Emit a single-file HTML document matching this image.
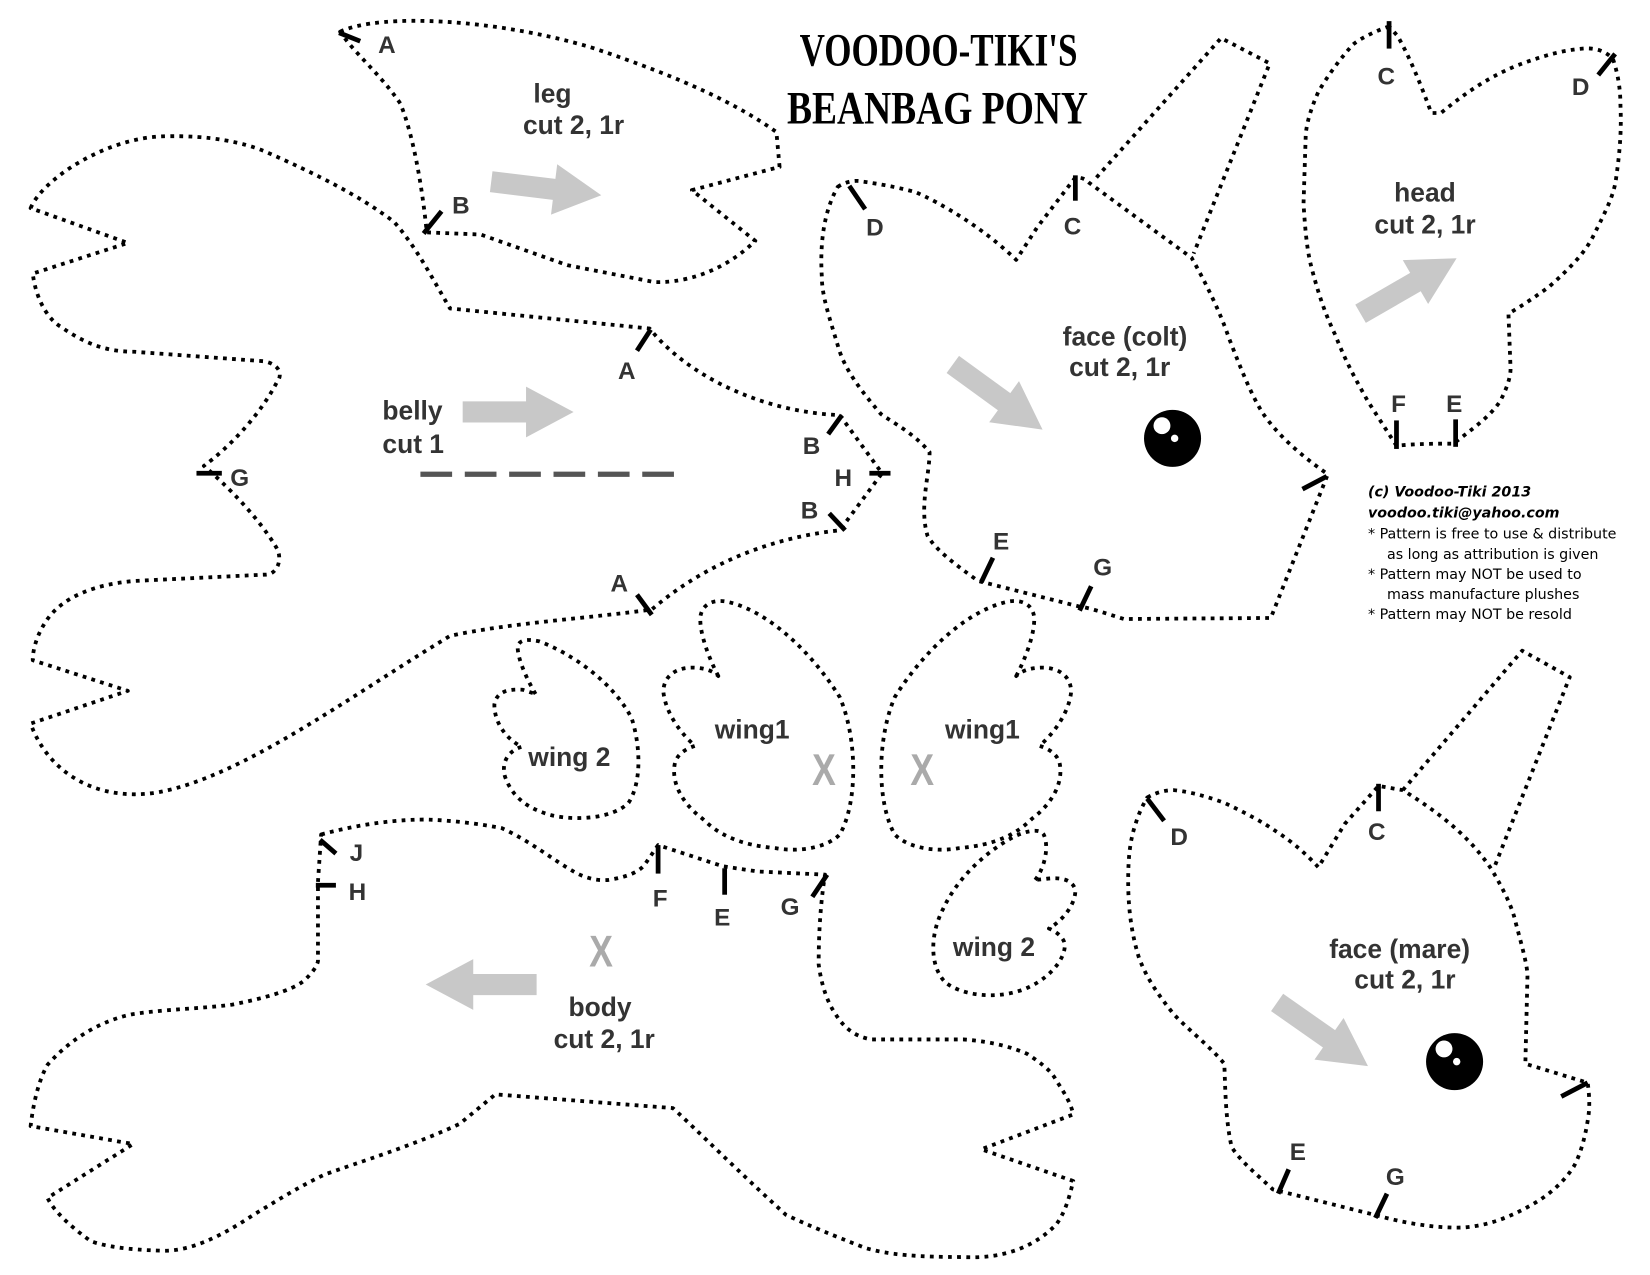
<!DOCTYPE html>
<html><head><meta charset="utf-8"><style>
html,body{margin:0;padding:0;background:#fff;}
svg{display:block;}
.d{fill:none;stroke:#000;stroke-width:3.6;stroke-dasharray:3.6 5;stroke-linejoin:round;}
.t{stroke:#000;stroke-width:4.5;}
.l{font-family:"Liberation Sans",sans-serif;font-weight:bold;fill:#333;font-size:25px;}
.k{font-family:"Liberation Sans",sans-serif;font-weight:bold;fill:#333;font-size:23px;}
.a{fill:#c8c8c8;}
.x{font-family:"Liberation Sans",sans-serif;font-weight:bold;fill:#aaa;font-size:42px;}
.n{font-family:"DejaVu Sans","Liberation Sans",sans-serif;font-size:13.5px;fill:#000;}
</style></head><body>
<svg width="1650" height="1275" viewBox="0 0 1562 1207" xmlns="http://www.w3.org/2000/svg">
<defs><path id="arr" d="M0,-10 L60,-10 L60,-24 L105,0 L60,24 L60,10 L0,10Z"/></defs>
<rect width="1562" height="1207" fill="#fff"/>

<!-- title -->
<text x="757" y="62" font-family="Liberation Serif,serif" font-weight="bold" font-size="44" textLength="263" lengthAdjust="spacingAndGlyphs">VOODOO-TIKI'S</text>
<text x="745" y="117" font-family="Liberation Serif,serif" font-weight="bold" font-size="44" textLength="285" lengthAdjust="spacingAndGlyphs">BEANBAG  PONY</text>

<!-- leg -->
<path class="d" d="M322,30 C360,12 470,18 560,45 C650,75 700,100 735,125 L738,158 L655,180 L715,228 C680,262 640,268 619,267 L537,251 L455,222 L404,220 C400,180 392,130 379,98 C360,70 335,50 322,30Z"/>
<line class="t" x1="321" y1="31" x2="341" y2="39"/>
<line class="t" x1="401" y1="221" x2="418" y2="200"/>
<text class="k" x="358" y="50">A</text>
<text class="k" x="428" y="202">B</text>
<text class="l" x="523" y="97" text-anchor="middle">leg</text>
<text class="l" x="543" y="127" text-anchor="middle">cut 2, 1r</text>
<use href="#arr" class="a" transform="translate(465,172) rotate(7)"/>

<!-- belly -->
<path class="d" d="M29,197 C40,170 100,130 156,129 C200,128 230,135 250,143 C300,165 340,185 373,210 C395,235 410,265 426,292 L615,311 C650,355 720,390 795,393 L835,448 L795,502 C720,510 660,540 617,577 C560,585 480,590 426,602 C330,660 230,735 150,750 C90,760 45,730 29,685 L121,654 L31,625 C31,615 35,600 45,586 C60,565 90,553 127,550 L250,544 C262,545 268,530 262,519 C245,490 215,460 193,441 C215,425 245,395 262,362 C268,355 265,345 250,342 L127,333 C100,333 80,325 57,309 C50,305 35,290 31,259 L121,230 Z"/>
<line class="t" x1="616" y1="312" x2="603" y2="332"/>
<line class="t" x1="797" y1="393" x2="784" y2="411"/>
<line class="t" x1="823" y1="448" x2="843" y2="448"/>
<line class="t" x1="785" y1="486" x2="800" y2="502"/>
<line class="t" x1="603" y1="563" x2="617" y2="582"/>
<line class="t" x1="186" y1="448" x2="210" y2="448"/>
<text class="k" x="585" y="359">A</text>
<text class="k" x="760" y="430">B</text>
<text class="k" x="790" y="460">H</text>
<text class="k" x="758" y="491">B</text>
<text class="k" x="578" y="560">A</text>
<text class="k" x="218" y="460">G</text>
<text class="l" x="362" y="397">belly</text>
<text class="l" x="362" y="429">cut 1</text>
<use href="#arr" class="a" transform="translate(438,390)"/>
<line x1="398" y1="449" x2="645" y2="449" stroke="#555" stroke-width="5" stroke-dasharray="30 12"/>

<!-- face colt -->
<path class="d" d="M1038,168 L1156,36 L1202,60 L1130,240"/>
<path class="d" d="M793,177 C800,172 810,170 817,172 C840,175 860,180 867,182 C890,192 930,215 962,246 L982,215 L1018,168 C1025,168 1028,170 1031,173 L1128,244 C1140,265 1155,295 1163,319 C1175,350 1185,375 1196,392 C1210,412 1230,430 1257,449 L1203,585 L1064,586 C1045,580 1030,575 1021,574 L926,550 C905,535 885,520 878,507 C870,480 880,450 880,428 C865,410 845,400 834,392 C815,370 800,350 794,330 C785,300 778,280 778,262 C776,230 780,200 793,177Z"/>
<line class="t" x1="804" y1="176" x2="819" y2="198"/>
<line class="t" x1="1018" y1="166" x2="1018" y2="190"/>
<line class="t" x1="1233" y1="463" x2="1256" y2="451"/>
<line class="t" x1="929" y1="551" x2="940" y2="528"/>
<line class="t" x1="1022" y1="578" x2="1033" y2="555"/>
<text class="k" x="820" y="223">D</text>
<text class="k" x="1007" y="222">C</text>
<text class="k" x="940" y="520">E</text>
<text class="k" x="1035" y="545">G</text>
<text class="l" x="1065" y="327" text-anchor="middle">face (colt)</text>
<text class="l" x="1060" y="356" text-anchor="middle">cut 2, 1r</text>
<use href="#arr" class="a" transform="translate(902,345) rotate(36)"/>
<circle cx="1110" cy="415" r="27"/>
<circle cx="1100" cy="403" r="8" fill="#fff"/>
<circle cx="1112" cy="415" r="3.5" fill="#fff"/>

<!-- head -->
<path class="d" d="M1315,25 C1300,30 1285,38 1280,43 C1265,60 1255,75 1248,87 C1240,105 1236,120 1236,131 L1234,193 C1236,225 1238,240 1242,255 C1250,285 1256,300 1264,317 C1275,345 1285,362 1295,380 L1322,422 C1340,420 1360,420 1376,420 C1395,405 1410,395 1420,380 C1428,365 1430,355 1430,349 L1428,297 C1440,290 1455,280 1467,271 C1485,255 1500,240 1508,224 C1520,200 1528,185 1530,168 C1534,140 1535,120 1534,99 C1534,80 1530,65 1527,56 C1520,48 1510,45 1498,46 C1475,48 1455,55 1436,62 C1405,75 1385,90 1364,107 L1355,107 C1345,80 1335,55 1323,34 Z"/>
<line class="t" x1="1315" y1="20" x2="1315" y2="46"/>
<line class="t" x1="1529" y1="51" x2="1513" y2="71"/>
<line class="t" x1="1322" y1="398" x2="1322" y2="425"/>
<line class="t" x1="1378" y1="397" x2="1378" y2="423"/>
<text class="k" x="1304" y="80">C</text>
<text class="k" x="1488" y="90">D</text>
<text class="k" x="1317" y="390">F</text>
<text class="k" x="1369" y="390">E</text>
<text class="l" x="1349" y="191" text-anchor="middle">head</text>
<text class="l" x="1349" y="221" text-anchor="middle">cut 2, 1r</text>
<use href="#arr" class="a" transform="translate(1288,297) rotate(-30)"/>

<!-- notes -->
<text class="n" x="1295" y="470" font-weight="bold" font-style="italic" font-size="15">(c) Voodoo-Tiki 2013</text>
<text class="n" x="1295" y="490" font-weight="bold" font-style="italic" font-size="15">voodoo.tiki@yahoo.com</text>
<text class="n" x="1295" y="510">* Pattern is free to use &amp; distribute</text>
<text class="n" x="1313" y="529">as long as attribution is given</text>
<text class="n" x="1295" y="548">* Pattern may NOT be used to</text>
<text class="n" x="1313" y="567">mass manufacture plushes</text>
<text class="n" x="1295" y="586">* Pattern may NOT be resold</text>

<!-- wings -->
<path class="d" d="M507,657 C500,645 490,625 490,612 C492,605 500,605 510,607 C540,618 580,645 598,680 C606,705 608,740 595,760 C580,775 545,777 523,772 C500,766 485,755 478,735 C474,720 483,710 494,707 C480,700 468,685 468,667 C470,655 480,652 495,653 Z"/>
<text class="l" x="539" y="725" text-anchor="middle" font-size="22">wing 2</text>
<g id="w1"><path class="d" d="M680,640 C672,625 662,600 663,584 C665,570 678,567 690,570 C730,580 770,620 795,660 C812,700 812,760 795,790 C780,805 750,806 735,803 C700,800 680,790 665,775 C645,760 635,740 639,722 C642,712 652,708 658,706 C645,695 630,675 628,655 C628,640 640,632 655,632 C668,632 676,636 680,640 Z"/></g>
<g transform="translate(1642,0) scale(-1,1)"><path class="d" d="M680,640 C672,625 662,600 663,584 C665,570 678,567 690,570 C730,580 770,620 795,660 C812,700 812,760 795,790 C780,805 750,806 735,803 C700,800 680,790 665,775 C645,760 635,740 639,722 C642,712 652,708 658,706 C645,695 630,675 628,655 C628,640 640,632 655,632 C668,632 676,636 680,640 Z"/></g>
<text class="l" x="712" y="699" text-anchor="middle" font-size="22">wing1</text>
<text class="l" x="930" y="699" text-anchor="middle" font-size="22">wing1</text>
<text class="x" x="780" y="743" text-anchor="middle" transform="translate(780,0) scale(0.8,1) translate(-780,0)">X</text>
<text class="x" x="873" y="743" text-anchor="middle" transform="translate(873,0) scale(0.8,1) translate(-873,0)">X</text>
<path class="d" d="M980,833 C990,820 993,800 988,790 C985,785 975,785 960,792 C930,808 905,834 893,860 C880,885 880,915 895,930 C910,942 940,946 965,938 C990,930 1008,910 1008,895 C1008,888 1000,882 993,879 C1008,870 1018,855 1018,843 C1016,833 1005,830 990,832 Z"/>
<text class="l" x="941" y="905" text-anchor="middle" font-size="22">wing 2</text>

<!-- body -->
<path class="d" d="M304,790 C340,780 380,775 408,776 C430,777 455,780 475,784 C500,795 525,815 543,825 C555,832 567,834 576,833 C595,830 605,825 610,819 L623,800 L684,820 L717,825 L781,828 C776,860 775,890 775,913 C778,935 784,950 791,960 C800,975 812,982 825,984 L912,984 C940,986 960,992 973,998 C988,1008 996,1015 1000,1023 C1008,1035 1014,1045 1016,1055 L929,1088 L1016,1118 C1012,1135 1008,1148 1000,1159 C980,1180 950,1192 912,1190 C870,1190 840,1188 818,1181 C790,1170 765,1160 744,1150 C700,1110 660,1070 637,1049 L469,1036 L435,1064 C390,1085 340,1100 307,1112 C280,1125 260,1138 240,1150 C210,1170 180,1185 153,1184 C120,1183 100,1180 86,1175 C65,1160 50,1145 45,1134 L126,1083 L29,1066 C32,1040 38,1020 45,1008 C70,980 100,965 126,960 C160,955 190,955 220,951 C250,945 275,938 287,929 C295,922 300,915 301,910 L301,835 Z"/>
<line class="t" x1="303" y1="795" x2="318" y2="808"/>
<line class="t" x1="299" y1="838" x2="318" y2="838"/>
<line class="t" x1="623" y1="800" x2="623" y2="827"/>
<line class="t" x1="686" y1="822" x2="686" y2="847"/>
<line class="t" x1="783" y1="828" x2="769" y2="849"/>
<text class="k" x="331" y="815">J</text>
<text class="k" x="330" y="852">H</text>
<text class="k" x="618" y="858">F</text>
<text class="k" x="676" y="876">E</text>
<text class="k" x="739" y="866">G</text>
<text class="x" x="569" y="915" text-anchor="middle" transform="translate(569,0) scale(0.8,1) translate(-569,0)">X</text>
<use href="#arr" class="a" transform="translate(508,932) rotate(180)"/>
<text class="l" x="568" y="962" text-anchor="middle">body</text>
<text class="l" x="572" y="992" text-anchor="middle">cut 2, 1r</text>

<!-- face mare -->
<path class="d" d="M1328,748 L1441,616 L1486,641 L1415,820"/>
<path class="d" d="M1086,755 C1095,750 1103,748 1111,748 C1130,750 1145,755 1159,760 C1180,770 1195,778 1208,787 C1225,798 1238,810 1248,821 L1273,780 L1305,744 L1328,748 C1360,768 1390,790 1412,823 C1425,845 1432,860 1435,874 C1442,900 1446,915 1446,924 L1444,1007 L1503,1025 C1505,1040 1505,1050 1503,1061 C1500,1080 1495,1095 1490,1104 C1480,1120 1465,1132 1451,1140 C1430,1152 1410,1160 1386,1162 C1360,1163 1330,1158 1305,1151 L1205,1126 C1190,1112 1175,1100 1166,1086 C1160,1060 1160,1030 1159,1007 C1145,990 1125,975 1111,960 C1095,940 1085,925 1078,906 C1070,880 1068,855 1068,834 C1068,810 1070,795 1075,780 C1078,770 1082,762 1086,755Z"/>
<line class="t" x1="1086" y1="756" x2="1102" y2="777"/>
<line class="t" x1="1305" y1="742" x2="1305" y2="768"/>
<line class="t" x1="1478" y1="1038" x2="1503" y2="1025"/>
<line class="t" x1="1210" y1="1130" x2="1220" y2="1107"/>
<line class="t" x1="1302" y1="1153" x2="1313" y2="1130"/>
<text class="k" x="1108" y="800">D</text>
<text class="k" x="1295" y="795">C</text>
<text class="k" x="1221" y="1098">E</text>
<text class="k" x="1312" y="1122">G</text>
<text class="l" x="1325" y="907" text-anchor="middle">face (mare)</text>
<text class="l" x="1330" y="936" text-anchor="middle">cut 2, 1r</text>
<use href="#arr" class="a" transform="translate(1209,949) rotate(35)"/>
<circle cx="1377" cy="1005" r="27"/>
<circle cx="1367" cy="993" r="8" fill="#fff"/>
<circle cx="1379" cy="1005" r="3.5" fill="#fff"/>
</svg>
</body></html>
